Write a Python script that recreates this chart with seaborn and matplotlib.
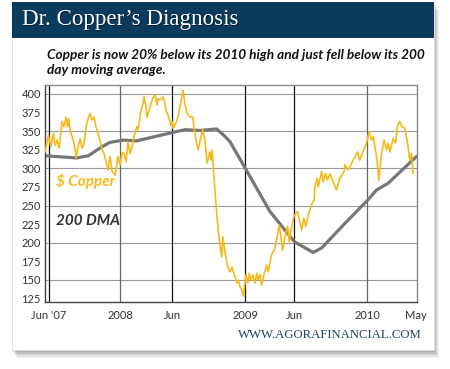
import matplotlib
matplotlib.use("Agg")
import matplotlib.pyplot as plt
from matplotlib.patches import Rectangle
import seaborn as sns
import pandas as pd

# ---- data (months since Jan 2007) ----
copper_month = [4.61, 4.93, 5.17, 5.42, 5.58, 5.78, 5.97, 6.26, 6.46, 6.65, 6.80, 6.89, 7.04, 7.33,
                7.52, 7.62, 7.82, 8.01, 8.20, 8.40, 8.59, 8.79, 8.98, 9.17, 9.37, 9.56, 9.76, 9.95,
                10.15, 10.34, 10.53, 10.73, 10.92, 11.12, 11.41, 11.70, 11.89, 12.09, 12.28, 12.48,
                12.67, 12.86, 13.06, 13.25, 13.54, 13.64, 13.93, 14.13, 14.22, 14.42, 14.51, 14.71,
                14.90, 15.10, 15.29, 15.49, 15.58, 15.78, 16.07, 16.26, 16.36, 16.55, 16.84, 16.94,
                17.04, 17.33, 17.52, 17.72, 18.01, 18.20, 18.40, 18.69, 18.95, 19.27, 19.47, 19.92,
                20.15, 20.34, 20.63, 20.73, 20.83, 21.02, 21.28, 21.50, 21.77, 21.89, 22.16, 22.38,
                22.57, 22.77, 22.96, 23.16, 23.25, 23.38, 23.54, 23.71, 23.88, 24.13, 24.32, 24.45,
                24.61, 24.81, 25.00, 25.19, 25.29, 25.49, 25.65, 25.87, 26.14, 26.29, 26.62, 26.87,
                27.11, 27.36, 27.52, 27.69, 27.91, 28.17, 28.33, 28.50, 28.82, 29.15, 29.53, 29.76,
                29.95, 30.17, 30.56, 30.76, 30.83, 31.05, 31.15, 31.48, 31.63, 31.86, 32.06, 32.28,
                32.60, 32.93, 33.25, 33.67, 33.74, 34.00, 34.22, 34.54, 34.97, 35.19, 35.42, 35.84,
                36.10, 36.33, 36.49, 36.82, 37.04, 37.30, 37.55, 37.79, 37.94, 38.11, 38.43, 38.66,
                38.86, 39.08, 39.27, 39.56, 39.83, 40.05, 40.21, 40.37]
copper_value = [322, 345, 329, 347, 331, 338, 327, 363, 356, 369, 356, 367, 352, 338,
                327, 314, 329, 340, 327, 334, 356, 367, 374, 365, 369, 356, 347, 336,
                325, 320, 309, 298, 316, 296, 291, 316, 305, 321, 320, 309,
                336, 320, 329, 343, 356, 352, 378, 387, 396, 383, 369, 378,
                387, 395, 399, 385, 394, 392, 396, 387, 378, 372, 358, 363,
                354, 361, 369, 383, 405, 387, 374, 369, 369, 338, 325, 352,
                338, 307, 322, 311, 325, 289, 240, 208, 181, 208, 181, 167,
                161, 167, 159, 150, 146, 150, 141, 137, 128, 157, 146, 159,
                150, 157, 146, 159, 150, 157, 143, 157, 170, 161, 184, 190,
                204, 224, 208, 190, 208, 222, 201, 217, 237, 242, 217, 233,
                222, 237, 253, 258, 275, 287, 275, 296, 282, 293, 284, 293,
                282, 271, 287, 296, 305, 298, 302, 311, 322, 311, 320, 334,
                349, 338, 343, 316, 284, 320, 338, 325, 334, 322, 340, 334,
                358, 363, 356, 354, 334, 311, 320, 293]

dma_month = [4.61, 7.69, 8.82, 10.12, 10.92, 12.21, 13.51, 16.91, 18.20, 19.66, 21.28, 22.09,
             22.57, 23.86, 26.46, 28.56, 28.88, 30.66, 31.48, 33.74, 36.00, 36.82, 37.94, 40.70]
dma_value = [317, 314, 317, 329, 335, 338, 337, 348, 352, 351, 353, 343,
             336, 305, 242, 206, 201, 187, 193, 226, 258, 271, 280, 316]

x_tick_pos = [5, 11.9, 16.95, 24.05, 28.8, 35.9, 40.65]
x_tick_labels = ["Jun '07", "2008", "Jun", "2009", "Jun", "2010", "May"]
y_ticks = [125, 150, 175, 200, 225, 250, 275, 300, 325, 350, 375, 400]
grid_vals = [150, 200, 250, 300, 350, 400]

# ---- styling ----
sns.set_style("white")
plt.rcParams["font.family"] = ["Lato", "DejaVu Sans"]

W, H = 450, 369
fig = plt.figure(figsize=(W / 100, H / 100), dpi=100)
fig.patch.set_facecolor("white")

def fx(px):
    return px / W

def fy(py):
    return 1 - py / H

# shadow
for i, a in enumerate([0.05, 0.06, 0.07, 0.08, 0.10]):
    off = 8 - i * 1.5
    fig.patches.append(Rectangle((fx(12 + off * 0.6), fy(350 + off)), fx(422), 348 / H,
                                 transform=fig.transFigure, facecolor="#000000",
                                 alpha=a, edgecolor="none", zorder=0))
# card
fig.patches.append(Rectangle((fx(12), fy(350)), fx(422), 348 / H, transform=fig.transFigure,
                             facecolor="white", edgecolor="#dddddd", lw=0.5, zorder=1))
# header band
fig.patches.append(Rectangle((fx(12), fy(38)), fx(422), 36 / H, transform=fig.transFigure,
                             facecolor="#0b3b5c", edgecolor="none", zorder=2))

fig.text(fx(22.8), fy(20.8), "Dr. Copper\u2019s Diagnosis", color="#031a2a", alpha=0.8,
         family=["Liberation Serif"], fontsize=16.6, va="center", ha="left", zorder=3)
fig.text(fx(22), fy(20), "Dr. Copper\u2019s Diagnosis", color="white",
         family=["Liberation Serif"], fontsize=16.6, va="center", ha="left", zorder=3)
fig.text(fx(47), fy(55), "Copper is now 20% below its 2010 high and just fell below its 200",
         family=["Lato", "DejaVu Sans"], fontweight="bold", fontstyle="italic",
         fontsize=9.8, color="#111111", va="center", ha="left", zorder=3)
fig.text(fx(47), fy(70), "day moving average.",
         family=["Lato", "DejaVu Sans"], fontweight="bold", fontstyle="italic",
         fontsize=9.8, color="#111111", va="center", ha="left", zorder=3)
fig.text(fx(422), fy(335), "WWW.AGORAFINANCIAL.COM", color="#1d4466",
         family=["Liberation Serif"], fontsize=9.2, va="center", ha="right", zorder=3)

ax = fig.add_axes([fx(45), fy(302), fx(416.5 - 45), (302 - 84.7) / H])
ax.set_zorder(4)
ax.set_facecolor("white")

for g in grid_vals:
    ax.axhline(g, color="#9a9a9a", lw=0.8, zorder=1)
vcols = ["#111111", "#666666", "#111111", "#111111", "#111111", "#666666"]
for p, c in zip(x_tick_pos[:-1], vcols):
    ax.axvline(p, color=c, lw=0.9, zorder=1)

dma_df = pd.DataFrame({"month": dma_month, "value": dma_value})
cu_df = pd.DataFrame({"month": copper_month, "value": copper_value})
sns.lineplot(data=dma_df, x="month", y="value", ax=ax, color="#777777", lw=2.3, zorder=2)
sns.lineplot(data=cu_df, x="month", y="value", ax=ax, color="#f6b919", lw=1.2, zorder=3)

ax.set_xlim(4.6, 40.7)
ax.set_ylim(120.4, 412.5)
ax.set_xticks(x_tick_pos)
ax.set_xticklabels(x_tick_labels)
ax.set_yticks(y_ticks)
ax.set_xlabel("")
ax.set_ylabel("")
ax.tick_params(axis="both", length=0, labelsize=8, colors="#333333")
ax.tick_params(axis="x", pad=6)
ax.tick_params(axis="y", pad=3)
for s in ["left", "bottom"]:
    ax.spines[s].set_color("#444444")
    ax.spines[s].set_linewidth(1.0)
for s in ["top", "right"]:
    ax.spines[s].set_color("#888888")
    ax.spines[s].set_linewidth(1.0)

ax.text(0.03, 0.555, "$ Copper", transform=ax.transAxes, color="#f6b919",
        fontweight="bold", fontstyle="italic", fontsize=11, va="center", ha="left")
ax.text(0.03, 0.375, "200 DMA", transform=ax.transAxes, color="#333333",
        fontweight="bold", fontstyle="italic", fontsize=11, va="center", ha="left")

fig.savefig("out.png", dpi=100)
